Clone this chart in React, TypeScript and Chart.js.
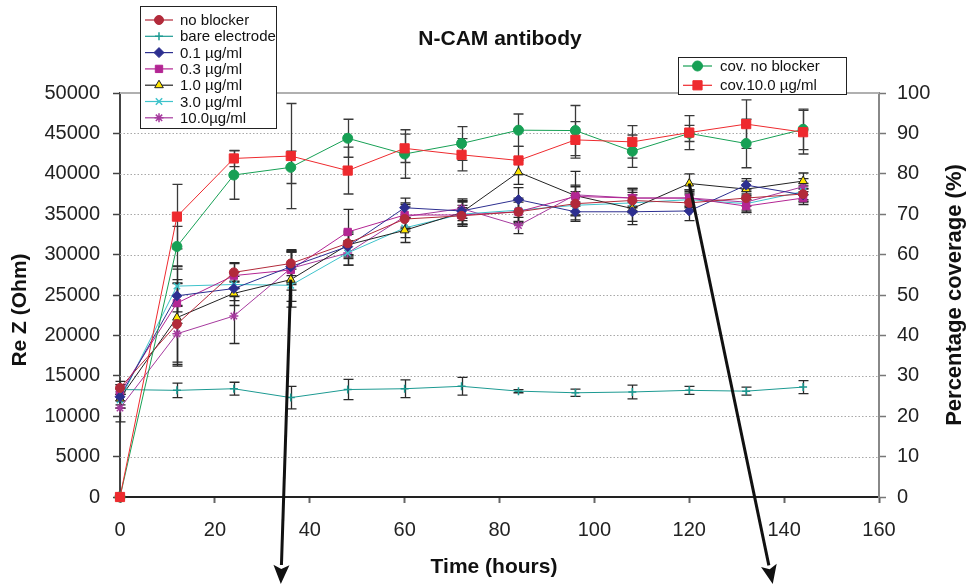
import React, { useEffect, useRef } from 'react';
import { Chart, registerables } from 'chart.js';

Chart.register(...registerables);

const FONT = '"Liberation Sans", Arial, Helvetica, sans-serif';

// ---------- data ----------
const TIMES = [0, 12, 24, 36, 48, 60, 72, 84, 96, 108, 120, 132, 144];

// Re Z (Ohm), left axis
const NO_BLOCKER = [13500, 21400, 27800, 28900, 31400, 34400, 34800, 35300, 36300, 36700, 36400, 37000, 37500];
const NO_BLOCKER_ERR = [800, 5000, 1200, 1500, 1500, 1500, 1000, 1200, 1500, 1500, 1000, 1000, 1000];
const BARE = [13300, 13200, 13400, 12300, 13300, 13400, 13700, 13100, 12900, 13000, 13200, 13100, 13600];
const BARE_ERR = [600, 900, 800, 1400, 1250, 1100, 1100, 200, 450, 850, 500, 500, 800];
const C01 = [12400, 24900, 25800, 28500, 31000, 35800, 35400, 36800, 35300, 35300, 35400, 38600, 37400];
const C01_ERR = [1000, 2000, 1500, 2000, 1500, 1200, 1200, 1500, 1200, 1200, 1200, 800, 800];
const C03 = [12900, 24000, 27400, 28100, 32800, 34900, 34900, 35300, 37200, 37000, 37000, 36000, 37000];
const C03_ERR = [1000, 2500, 1500, 2500, 2800, 1500, 1200, 1500, 1200, 1000, 1000, 800, 800];
const C10 = [12200, 22200, 25200, 26900, 31200, 33000, 35200, 40200, 37300, 35700, 38800, 38100, 39100];
const C10_ERR = [1200, 6000, 1500, 3400, 1500, 1500, 1500, 1500, 3000, 2000, 1200, 1000, 1000];
const C30 = [12000, 26100, 26300, 26200, 30200, 33300, 35000, 35500, 36100, 36400, 36800, 36300, 37800];
const C30_ERR = [1000, 2500, 1500, 2000, 1500, 1200, 1500, 1500, 1200, 1000, 1000, 1000, 1000];
const C100 = [11000, 20200, 22400, 28300, 30200, 34700, 35700, 33600, 37400, 37000, 37000, 36500, 38400];
const C100_ERR = [1700, 3500, 3400, 2000, 1500, 1500, 1200, 1000, 1200, 1200, 1000, 1000, 1000];

// Percentage coverage (%), right axis
const COV_NO_BLOCKER = [0, 62, 79.7, 81.6, 88.8, 84.9, 87.5, 90.8, 90.7, 85.6, 90, 87.5, 91];
const COV_NO_BLOCKER_ERR = [0, 5, 6, 4, 4.7, 6, 4.2, 4, 6.2, 4, 2, 6, 5];
const COV_10 = [0, 69.4, 83.8, 84.4, 80.8, 86.3, 84.7, 83.3, 88.4, 87.9, 90.2, 92.3, 90.3];
const COV_10_ERR = [0, 8, 2, 13, 5.8, 3.5, 4, 3.5, 4.5, 4, 4.2, 6, 5.4];

// annotation arrows: start at the 1.0 µg/ml points, end below the axis
const ARROW_FROM_INDEX = [3, 10];
const ARROW_TO_TIME = [33.9, 137.6];

const TITLE = 'N-CAM antibody';
const X_TITLE = 'Time (hours)';
const Y_TITLE = 'Re Z (Ohm)';
const Y1_TITLE = 'Percentage coverage (%)';

type S = {
  label: string; data: number[]; err: number[]; color: string; fill: string;
  marker: string; radius: number; axis: 'y' | 'y1'; legend: 1 | 2; lw: number;
};

const SERIES: S[] = [
  { label: 'cov.10.0 \u00b5g/ml', data: COV_10, err: COV_10_ERR, color: '#ee2a2e', fill: '#ee2a2e', marker: 'rect', radius: 6.5, axis: 'y1', legend: 2, lw: 1 },
  { label: 'cov. no blocker', data: COV_NO_BLOCKER, err: COV_NO_BLOCKER_ERR, color: '#17a055', fill: '#17a055', marker: 'circle', radius: 5, axis: 'y1', legend: 2, lw: 1 },
  { label: 'no blocker', data: NO_BLOCKER, err: NO_BLOCKER_ERR, color: '#b22a3a', fill: '#b22a3a', marker: 'circle', radius: 4.5, axis: 'y', legend: 1, lw: 1 },
  { label: 'bare electrode', data: BARE, err: BARE_ERR, color: '#1c9a92', fill: '#1c9a92', marker: 'cross', radius: 4, axis: 'y', legend: 1, lw: 1 },
  { label: '0.1 \u00b5g/ml', data: C01, err: C01_ERR, color: '#2d2f90', fill: '#2d2f90', marker: 'rectRot', radius: 5, axis: 'y', legend: 1, lw: 1 },
  { label: '0.3 \u00b5g/ml', data: C03, err: C03_ERR, color: '#b32593', fill: '#b32593', marker: 'rect', radius: 5.2, axis: 'y', legend: 1, lw: 1 },
  { label: '1.0 \u00b5g/ml', data: C10, err: C10_ERR, color: '#222222', fill: '#ffe600', marker: 'triangle', radius: 5, axis: 'y', legend: 1, lw: 1 },
  { label: '3.0 \u00b5g/ml', data: C30, err: C30_ERR, color: '#3ec3cb', fill: '#3ec3cb', marker: 'crossRot', radius: 4.5, axis: 'y', legend: 1, lw: 1 },
  { label: '10.0\u00b5g/ml', data: C100, err: C100_ERR, color: '#a63a9e', fill: '#a63a9e', marker: 'star', radius: 4.5, axis: 'y', legend: 1, lw: 1 },
];

const LEGEND1_ORDER = ['no blocker', 'bare electrode', '0.1 \u00b5g/ml', '0.3 \u00b5g/ml', '1.0 \u00b5g/ml', '3.0 \u00b5g/ml', '10.0\u00b5g/ml'];
const LEGEND2_ORDER = ['cov. no blocker', 'cov.10.0 \u00b5g/ml'];

function drawMarker(ctx: CanvasRenderingContext2D, style: string, x: number, y: number, r: number, fill: string, stroke: string) {
  ctx.save();
  ctx.fillStyle = fill;
  ctx.strokeStyle = stroke;
  ctx.lineWidth = 1;
  ctx.beginPath();
  const d = r * Math.SQRT1_2;
  switch (style) {
    case 'circle':
      ctx.arc(x, y, r, 0, Math.PI * 2); ctx.fill(); ctx.stroke(); break;
    case 'rect':
      ctx.rect(x - d, y - d, 2 * d, 2 * d); ctx.fill(); ctx.stroke(); break;
    case 'rectRot':
      ctx.moveTo(x, y - r); ctx.lineTo(x + r, y); ctx.lineTo(x, y + r); ctx.lineTo(x - r, y); ctx.closePath(); ctx.fill(); ctx.stroke(); break;
    case 'triangle':
      ctx.moveTo(x, y - r); ctx.lineTo(x + r * 0.866, y + r * 0.5); ctx.lineTo(x - r * 0.866, y + r * 0.5); ctx.closePath(); ctx.fill(); ctx.stroke(); break;
    case 'cross':
      ctx.lineWidth = 1.5; ctx.moveTo(x - r, y); ctx.lineTo(x + r, y); ctx.moveTo(x, y - r); ctx.lineTo(x, y + r); ctx.stroke(); break;
    case 'crossRot':
      ctx.lineWidth = 1.5; ctx.moveTo(x - d, y - d); ctx.lineTo(x + d, y + d); ctx.moveTo(x + d, y - d); ctx.lineTo(x - d, y + d); ctx.stroke(); break;
    case 'star':
      ctx.lineWidth = 1.5; ctx.moveTo(x - r, y); ctx.lineTo(x + r, y); ctx.moveTo(x, y - r); ctx.lineTo(x, y + r);
      ctx.moveTo(x - d, y - d); ctx.lineTo(x + d, y + d); ctx.moveTo(x + d, y - d); ctx.lineTo(x - d, y + d); ctx.stroke(); break;
  }
  ctx.restore();
}

const customPlugin = {
  id: 'customDecor',
  beforeDatasetsDraw(chart: any) {
    const ctx: CanvasRenderingContext2D = chart.ctx;
    const ca = chart.chartArea;
    const yL = chart.scales.y;
    const yR = chart.scales.y1;
    const xS = chart.scales.x;
    ctx.save();
    // dotted gridlines
    ctx.strokeStyle = '#a8a8a8';
    ctx.lineWidth = 1;
    ctx.setLineDash([1.5, 2]);
    yL.ticks.forEach((t: any) => {
      if (t.value <= yL.min || t.value >= yL.max) return;
      const py = Math.round(yL.getPixelForValue(t.value)) + 0.5;
      ctx.beginPath(); ctx.moveTo(ca.left, py); ctx.lineTo(ca.right, py); ctx.stroke();
    });
    ctx.setLineDash([]);
    // top frame line
    ctx.strokeStyle = '#b0b0b0';
    ctx.lineWidth = 2;
    ctx.beginPath(); ctx.moveTo(ca.left, ca.top); ctx.lineTo(ca.right, ca.top); ctx.stroke();
    // error bars
    SERIES.forEach((s) => {
      const ys = s.axis === 'y1' ? yR : yL;
      s.data.forEach((v, i) => {
        const e = s.err[i];
        if (!e) return;
        const px = Math.round(xS.getPixelForValue(TIMES[i])) + 0.5;
        const top = ys.getPixelForValue(v + e);
        const bot = ys.getPixelForValue(v - e);
        ctx.strokeStyle = s.axis === 'y1' ? '#3a3a3a' : '#2a2a2a';
        ctx.lineWidth = 1.3;
        ctx.beginPath();
        ctx.moveTo(px, top); ctx.lineTo(px, bot);
        ctx.moveTo(px - 5, top); ctx.lineTo(px + 5, top);
        ctx.moveTo(px - 5, bot); ctx.lineTo(px + 5, bot);
        ctx.stroke();
      });
    });
    ctx.restore();
  },
  afterDraw(chart: any) {
    const ctx: CanvasRenderingContext2D = chart.ctx;
    const yL = chart.scales.y;
    const xS = chart.scales.x;
    ctx.save();
    ctx.fillStyle = '#111';
    ctx.textAlign = 'center';
    ctx.textBaseline = 'middle';
    ctx.font = `bold 21px ${FONT}`;
    ctx.fillText(TITLE, 500, 39);
    ctx.fillText(X_TITLE, 494, 567);
    ctx.save();
    ctx.translate(20, 310);
    ctx.rotate(-Math.PI / 2);
    ctx.fillText(Y_TITLE, 0, 0);
    ctx.restore();
    ctx.save();
    ctx.translate(955, 295);
    ctx.rotate(-Math.PI / 2);
    ctx.font = `bold 22px ${FONT}`;
    ctx.fillText(Y1_TITLE, 0, 0);
    ctx.restore();

    // legends
    const drawLegend = (order: string[], bx: number, by: number, bw: number, bh: number, y0: number, dy: number, l0: number, l1: number, tx: number) => {
      ctx.fillStyle = '#fff';
      ctx.fillRect(bx, by, bw, bh);
      ctx.strokeStyle = '#222';
      ctx.lineWidth = 1;
      ctx.strokeRect(bx + 0.5, by + 0.5, bw, bh);
      ctx.font = `15px ${FONT}`;
      ctx.textAlign = 'left';
      ctx.textBaseline = 'middle';
      order.forEach((lab, i) => {
        const s = SERIES.find((q) => q.label === lab)!;
        const y = y0 + i * dy;
        ctx.strokeStyle = s.color;
        ctx.lineWidth = 1.2;
        ctx.beginPath(); ctx.moveTo(l0, y); ctx.lineTo(l1, y); ctx.stroke();
        drawMarker(ctx, s.marker, (l0 + l1) / 2, y, s.radius, s.fill, s.color);
        ctx.fillStyle = '#111';
        ctx.fillText(lab, tx, y + 1);
      });
    };
    drawLegend(LEGEND1_ORDER, 140, 6, 136, 122, 20, 16.3, 145, 173, 180);
    drawLegend(LEGEND2_ORDER, 678, 57, 168, 37, 66, 19.3, 683, 712, 720);

    // arrows
    const tri = SERIES.find((q) => q.marker === 'triangle')!;
    ARROW_FROM_INDEX.forEach((idx, k) => {
      const x0 = xS.getPixelForValue(TIMES[idx]);
      const y0 = yL.getPixelForValue(tri.data[idx]);
      const x1 = xS.getPixelForValue(ARROW_TO_TIME[k]);
      const y1 = chart.height - 3;
      const ang = Math.atan2(y1 - y0, x1 - x0);
      const hl = 19, hw = 8;
      const bx = x1 - hl * Math.cos(ang), by = y1 - hl * Math.sin(ang);
      ctx.strokeStyle = '#111';
      ctx.fillStyle = '#111';
      ctx.lineWidth = 3;
      ctx.beginPath(); ctx.moveTo(x0, y0); ctx.lineTo(bx, by); ctx.stroke();
      ctx.beginPath();
      ctx.moveTo(x1, y1);
      ctx.lineTo(bx + hw * Math.sin(ang), by - hw * Math.cos(ang));
      ctx.lineTo(bx + 4 * Math.cos(ang), by + 4 * Math.sin(ang));
      ctx.lineTo(bx - hw * Math.sin(ang), by + hw * Math.cos(ang));
      ctx.closePath(); ctx.fill();
    });
    ctx.restore();
  },
};

export default function App() {
  const ref = useRef<HTMLCanvasElement | null>(null);
  useEffect(() => {
    document.body.style.margin = '0';
    const canvas = ref.current!;
    const tickFont = { size: 20, family: FONT };
    const chart = new Chart(canvas, {
      type: 'line',
      data: {
        datasets: SERIES.map((s) => ({
          label: s.label,
          data: TIMES.map((t, i) => ({ x: t, y: s.data[i] })),
          yAxisID: s.axis,
          borderColor: s.color,
          borderWidth: s.lw,
          backgroundColor: s.fill,
          pointStyle: s.marker as any,
          pointRadius: s.radius,
          pointBackgroundColor: s.fill,
          pointBorderColor: s.color,
          pointBorderWidth: ['cross', 'crossRot', 'star'].includes(s.marker) ? 1.5 : 1,
          fill: false,
          tension: 0,
          clip: false,
        })),
      },
      options: {
        animation: false,
        responsive: false,
        maintainAspectRatio: false,
        devicePixelRatio: 1,
        events: [],
        layout: { padding: { top: 93, left: 0, right: 0, bottom: 0 } },
        plugins: { legend: { display: false }, title: { display: false }, tooltip: { enabled: false } },
        scales: {
          x: {
            type: 'linear', min: 0, max: 160,
            ticks: { stepSize: 20, font: tickFont, color: '#222', padding: 15, callback: (v: any) => String(v) },
            grid: { drawOnChartArea: false, drawTicks: true, tickLength: 6, tickColor: '#666', tickWidth: 2 },
            border: { color: '#222', width: 2 },
            afterFit: (s: any) => { s.height = 90; },
          },
          y: {
            type: 'linear', position: 'left', min: 0, max: 50000,
            ticks: { stepSize: 5000, font: tickFont, color: '#222', padding: 13, callback: (v: any) => String(v) },
            grid: { drawOnChartArea: false, drawTicks: true, tickLength: 7, tickColor: '#444', tickWidth: 1.5 },
            border: { color: '#444', width: 2 },
            afterFit: (s: any) => { s.width = 120; },
          },
          y1: {
            type: 'linear', position: 'right', min: 0, max: 100,
            ticks: { stepSize: 10, font: tickFont, color: '#222', padding: 11, callback: (v: any) => String(v) },
            grid: { drawOnChartArea: false, drawTicks: true, tickLength: 7, tickColor: '#777', tickWidth: 1.5 },
            border: { color: '#888', width: 2 },
            afterFit: (s: any) => { s.width = 94; },
          },
        },
      } as any,
      plugins: [customPlugin],
    });
    return () => chart.destroy();
  }, []);
  return (
    <div style={{ width: 973, height: 587, position: 'relative', background: '#fff' }}>
      <canvas ref={ref} width={973} height={587} style={{ display: 'block', width: 973, height: 587 }} />
    </div>
  );
}
